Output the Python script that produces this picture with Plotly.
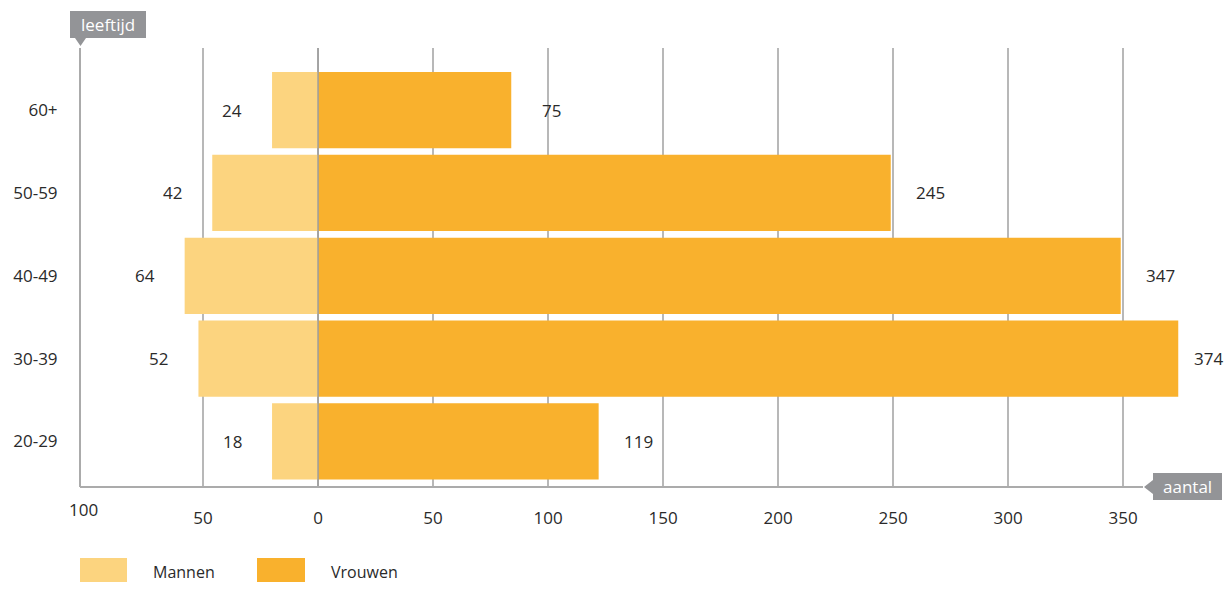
import plotly.graph_objects as go

categories = ["20-29", "30-39", "40-49", "50-59", "60+"]
mannen_lengte = [20, 52, 58, 46, 20]
mannen_label = [18, 52, 64, 42, 24]
vrouwen_lengte = [122, 374, 349, 249, 84]
vrouwen_label = [119, 374, 347, 245, 75]
x_ticks = [-50, 0, 50, 100, 150, 200, 250, 300, 350]
x_ticktext = ["50", "0", "50", "100", "150", "200", "250", "300", "350"]

C_M = "#FCD47F"
C_V = "#F9B12D"
GREY = "#939497"
FONT = "Open Sans"
TXT = "#2a2a2a"

OFF = 8  # page body margin
W, H = 1232 - 2 * OFF, 590 - 2 * OFF
P_L, P_T, P_B = 80, 48, 487
ML = P_L - OFF
MT = P_T - OFF
MB = H - (P_B - OFF)
MR = 0
PW, PH = W - ML - MR, H - MT - MB
SCALE = 2.3  # px per unit
x_left = -103.5
x_right = x_left + PW / SCALE


def px(x):
    return (x - OFF - ML) / PW


def py(y):
    return (P_B - y) / PH


fig = go.Figure()
fig.add_trace(go.Bar(y=categories, x=[-v for v in mannen_lengte], orientation="h",
                     marker=dict(color=C_M, line=dict(width=0)), name="Mannen",
                     hoverinfo="skip"))
fig.add_trace(go.Bar(y=categories, x=vrouwen_lengte, orientation="h",
                     marker=dict(color=C_V, line=dict(width=0)), name="Vrouwen",
                     hoverinfo="skip"))

annotations = []
for c, L, lab in zip(categories, mannen_lengte, mannen_label):
    annotations.append(dict(x=-L, y=c, xref="x", yref="y", text=str(lab), showarrow=False,
                            xshift=-40, xanchor="center", font=dict(size=17, color=TXT, family=FONT)))
for c, L, lab in zip(categories, vrouwen_lengte, vrouwen_label):
    end_px = (L - x_left) * SCALE  # within plot area
    shift = min(40, PW - 16 - end_px)
    annotations.append(dict(x=L, y=c, xref="x", yref="y", text=str(lab), showarrow=False,
                            xshift=shift, xanchor="center", font=dict(size=17, color=TXT, family=FONT)))

annotations.append(dict(x=px(83), y=py(509), xref="paper", yref="paper", text="100", showarrow=False,
                        xanchor="center", yanchor="middle", font=dict(size=17, color=TXT, family=FONT)))
annotations.append(dict(x=px(108), y=py(24.5), xref="paper", yref="paper", text="leeftijd", showarrow=False,
                        xanchor="center", yanchor="middle", font=dict(size=17, color="white", family=FONT)))
annotations.append(dict(x=px(1187.5), y=py(486.5), xref="paper", yref="paper", text="aantal", showarrow=False,
                        xanchor="center", yanchor="middle", font=dict(size=17, color="white", family=FONT)))
annotations.append(dict(x=px(151), y=py(572), xref="paper", yref="paper", text="Mannen", showarrow=False,
                        xanchor="left", yanchor="middle", font=dict(size=16, color=TXT, family=FONT)))
annotations.append(dict(x=px(329), y=py(572), xref="paper", yref="paper", text="Vrouwen", showarrow=False,
                        xanchor="left", yanchor="middle", font=dict(size=16, color=TXT, family=FONT)))


def rect(x0, y0, x1, y1, color, layer="above"):
    return dict(type="rect", xref="paper", yref="paper", x0=px(x0), x1=px(x1), y0=py(y1), y1=py(y0),
                fillcolor=color, line=dict(width=0), layer=layer)


def tri(points, color):
    path = "M " + " L ".join(f"{px(a)},{py(b)}" for a, b in points) + " Z"
    return dict(type="path", xref="paper", yref="paper", path=path, fillcolor=color,
                line=dict(width=0), layer="above")


shapes = [
    dict(type="line", xref="x", yref="paper", x0=0, x1=0, y0=0, y1=1,
         line=dict(color="#9d9d9d", width=1.5), layer="above"),
    dict(type="line", xref="paper", yref="paper", x0=0, x1=0, y0=0, y1=1,
         line=dict(color="#ababab", width=2), layer="above"),
    dict(type="line", xref="paper", yref="paper", x0=0, x1=px(1143), y0=0, y1=0,
         line=dict(color="#ababab", width=2), layer="above"),
    rect(70, 11, 146, 38, GREY),
    tri([(75, 38), (86, 38), (80.5, 46)], GREY),
    rect(1153, 473, 1222, 500, GREY),
    tri([(1153, 480), (1153, 494), (1144, 487)], GREY),
    rect(80, 558, 127, 583, C_M),
    tri([(86, 583), (96, 583), (91, 590)], C_M),
    rect(257, 558, 305, 583, C_V),
    tri([(263, 583), (273, 583), (268, 590)], C_V),
]

fig.update_layout(
    width=W, height=H, autosize=False,
    margin=dict(l=ML, r=MR, t=MT, b=MB, pad=0),
    barmode="relative", bargap=0.08,
    plot_bgcolor="white", paper_bgcolor="white",
    showlegend=False,
    font=dict(family=FONT, size=17, color=TXT),
    annotations=annotations, shapes=shapes,
)
fig.update_xaxes(range=[x_left, x_right], tickvals=x_ticks, ticktext=x_ticktext,
                 showgrid=True, gridcolor="#b8b8b8", gridwidth=1.5, zeroline=False,
                 showline=False, ticks="outside", ticklen=16, tickcolor="rgba(0,0,0,0)",
                 tickfont=dict(size=17, color=TXT, family=FONT), fixedrange=True)
fig.update_yaxes(range=[-0.55, 4.75], type="category", showgrid=False, zeroline=False,
                 showline=False, ticks="outside", ticklen=18, tickcolor="rgba(0,0,0,0)",
                 tickfont=dict(size=17, color=TXT, family=FONT), fixedrange=True)

fig.write_html("out.html")
